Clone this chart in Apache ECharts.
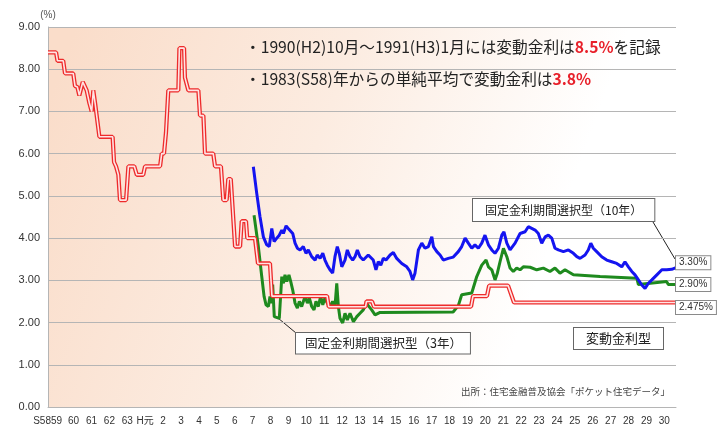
<!DOCTYPE html>
<html><head><meta charset="utf-8">
<script src="https://cdn.jsdelivr.net/npm/echarts@6/dist/echarts.min.js"></script>
<style>html,body{margin:0;padding:0;background:#fff}#c{width:726px;height:438px}</style>
</head><body><div id="c"></div>
<script>
// x tick labels, one per year from 1983 (S58) to 2018 (H30)
const xLabels = ['S58','59','60','61','62','63','H元','2','3','4','5','6','7','8','9','10','11','12','13','14','15','16','17','18','19','20','21','22','23','24','25','26','27','28','29','30'];
const firstYear = 1983;
const yTicks = [0,1,2,3,4,5,6,7,8,9];

// 変動金利型 [decimal year, %]
const floatRate = [
 [1983.57,8.4],[1984.02,8.4],[1984.10,8.2],[1984.42,8.2],[1984.52,7.9],[1984.98,7.9],[1985.08,7.6],[1985.21,7.58],
 [1985.32,7.38],[1985.38,7.38],[1985.51,7.7],[1985.58,7.7],[1985.73,7.5],[1985.88,7.2],[1986.01,7.0],[1986.10,7.5],
 [1986.20,7.2],[1986.28,7.2],[1986.44,6.4],[1987.18,6.4],[1987.26,5.8],[1987.37,5.7],[1987.50,5.5],[1987.59,4.9],
 [1987.93,4.9],[1988.06,5.7],[1988.39,5.7],[1988.53,5.5],[1988.89,5.5],[1988.99,5.7],[1989.83,5.7],[1989.92,6.0],
 [1990.05,6.0],[1990.16,6.5],[1990.29,7.5],[1990.85,7.5],[1990.91,8.5],[1991.17,8.5],[1991.22,7.8],[1991.31,7.8],
 [1991.41,7.5],[1991.97,7.5],[1992.06,6.9],[1992.25,6.9],[1992.34,6.0],[1992.80,6.0],[1992.90,5.7],[1993.23,5.7],
 [1993.36,4.9],[1993.55,4.9],[1993.64,5.4],[1993.78,5.4],[1993.87,4.8],[1994.02,3.8],[1994.30,3.8],[1994.39,4.4],
 [1994.63,4.4],[1994.70,4.0],[1995.13,4.0],[1995.30,3.4],[1995.97,3.4],[1996.08,2.625],[1999.16,2.625],[1999.25,2.375],
 [2001.31,2.375],[2001.36,2.5],[2001.67,2.5],[2001.78,2.375],[2007.20,2.375],[2007.31,2.625],[2008.09,2.625],[2008.21,2.875],
 [2009.27,2.875],[2009.60,2.475],[2018.65,2.475]
];

// 固定金利期間選択型（3年）
const fixed3 = [
 [1995.08,4.54],[1995.32,3.80],[1995.51,3.09],[1995.64,2.62],[1995.75,2.42],[1995.88,2.38],[1995.97,2.62],[1996.07,2.46],
 [1996.12,2.90],[1996.21,2.14],[1996.49,2.10],[1996.63,3.09],[1996.72,2.93],[1996.81,3.13],[1996.91,2.97],[1997.03,3.13],
 [1997.13,2.97],[1997.24,2.77],[1997.37,2.46],[1997.50,2.34],[1997.61,2.50],[1997.74,2.38],[1997.93,2.62],[1998.06,2.46],
 [1998.17,2.58],[1998.30,2.38],[1998.43,2.30],[1998.54,2.50],[1998.67,2.38],[1998.80,2.62],[1998.92,2.42],[1999.04,2.58],
 [1999.17,2.46],[1999.32,2.38],[1999.47,2.50],[1999.60,2.38],[1999.70,2.93],[1999.79,2.38],[1999.88,2.10],[2000.03,1.99],
 [2000.16,2.22],[2000.29,2.06],[2000.44,2.22],[2000.63,2.02],[2000.82,2.14],[2001.00,2.22],[2001.18,2.30],[2001.37,2.46],
 [2001.46,2.40],[2001.65,2.30],[2001.84,2.18],[2002.12,2.24],[2006.20,2.25],[2006.49,2.40],[2006.68,2.66],[2006.77,2.70],
 [2007.24,2.70],[2007.33,2.66],[2007.52,3.09],[2007.80,3.36],[2008.04,3.48],[2008.17,3.32],[2008.36,3.25],[2008.54,3.01],
 [2008.67,3.17],[2008.82,3.44],[2009.01,3.76],[2009.20,3.56],[2009.38,3.29],[2009.56,3.21],[2009.75,3.29],[2009.94,3.25],
 [2010.12,3.32],[2010.50,3.31],[2010.87,3.25],[2011.24,3.29],[2011.61,3.21],[2011.89,3.29],[2012.17,3.17],[2012.45,3.25],
 [2012.73,3.18],[2012.92,3.13],[2014.41,3.09],[2016.46,3.05],[2016.55,2.90],[2018.13,2.97],[2018.22,2.90],[2018.65,2.90]
];

// 固定金利期間選択型（10年）
const fixed10 = [
 [1995.04,5.69],[1995.23,5.06],[1995.41,4.51],[1995.60,4.03],[1995.79,3.84],[1995.93,3.80],[1996.07,4.23],[1996.20,3.92],
 [1996.35,4.00],[1996.49,4.07],[1996.63,4.19],[1996.72,4.11],[1996.87,4.29],[1996.99,4.23],[1997.09,4.27],[1997.24,4.11],
 [1997.37,3.88],[1997.50,3.76],[1997.65,3.72],[1997.83,3.80],[1997.98,3.64],[1998.11,3.72],[1998.30,3.56],[1998.49,3.48],
 [1998.61,3.60],[1998.77,3.52],[1998.92,3.64],[1999.04,3.48],[1999.17,3.36],[1999.32,3.25],[1999.47,3.17],[1999.60,3.56],
 [1999.73,3.80],[1999.84,3.64],[1999.98,3.32],[2000.16,3.48],[2000.29,3.72],[2000.44,3.56],[2000.59,3.48],[2000.72,3.56],
 [2000.85,3.72],[2001.00,3.56],[2001.18,3.48],[2001.46,3.60],[2001.74,3.48],[2001.89,3.25],[2002.02,3.44],[2002.16,3.36],
 [2002.30,3.52],[2002.45,3.48],[2002.68,3.60],[2002.86,3.66],[2003.05,3.52],[2003.33,3.40],[2003.61,3.32],[2003.79,3.21],
 [2003.94,3.01],[2004.07,3.17],[2004.26,3.72],[2004.45,3.88],[2004.63,3.76],[2004.82,3.80],[2005.01,4.03],[2005.10,3.80],
 [2005.29,3.68],[2005.47,3.60],[2005.65,3.48],[2005.93,3.52],[2006.21,3.55],[2006.49,3.68],[2006.68,3.80],[2006.87,4.00],
 [2007.05,3.88],[2007.24,3.76],[2007.42,3.84],[2007.61,3.76],[2007.80,3.88],[2007.98,4.07],[2008.17,3.84],[2008.36,3.72],
 [2008.54,3.64],[2008.73,3.76],[2008.92,4.07],[2009.04,4.15],[2009.20,3.88],[2009.38,3.72],[2009.66,3.88],[2009.94,4.11],
 [2010.22,4.15],[2010.40,4.27],[2010.59,4.23],[2010.78,4.19],[2010.96,4.11],[2011.15,3.88],[2011.34,4.03],[2011.52,4.07],
 [2011.71,4.00],[2011.89,3.76],[2012.08,3.72],[2012.36,3.68],[2012.64,3.72],[2012.92,3.64],[2013.11,3.56],[2013.29,3.52],
 [2013.57,3.60],[2013.75,3.72],[2013.89,3.88],[2014.03,3.76],[2014.22,3.68],[2014.50,3.56],[2014.78,3.48],[2015.06,3.44],
 [2015.34,3.40],[2015.62,3.32],[2015.80,3.44],[2015.99,3.32],[2016.18,3.21],[2016.36,3.13],[2016.55,3.01],[2016.74,2.89],
 [2016.92,2.81],[2017.11,2.93],[2017.30,3.01],[2017.58,3.13],[2017.86,3.25],[2018.13,3.25],[2018.41,3.26],[2018.65,3.30]
];

const JP = '"Noto Sans CJK JP", sans-serif';
const NUM = '"Liberation Sans", "Noto Sans CJK JP", sans-serif';

function pct(v) {
  const s3 = v.toFixed(3);
  return (s3.endsWith('0') ? v.toFixed(2) : s3) + '%';
}
function endLabel(offset) {
  return {
    show: true, formatter: p => pct(p.value[1]), distance: 0, offset: offset,
    backgroundColor: '#fff', borderColor: '#8a8a8a', borderWidth: 1, padding: [2, 3, 1, 3],
    fontSize: 10, fontFamily: NUM, color: '#333'
  };
}

const chart = echarts.init(document.getElementById('c'), null, {renderer: 'canvas'});
chart.setOption({
  animation: false,
  backgroundColor: '#fff',
  grid: {
    left: 48, right: 50, top: 27, bottom: 31, show: true, borderWidth: 0,
    backgroundColor: new echarts.graphic.LinearGradient(0, 0.2, 1, 0.8, [
      {offset: 0, color: '#FADDCA'}, {offset: 0.4, color: '#FCECE1'}, {offset: 0.78, color: '#FFFFFF'}, {offset: 1, color: '#FFFFFF'}
    ])
  },
  xAxis: {
    type: 'value', min: 1983.57, max: 2018.65,
    axisLine: {show: true, lineStyle: {color: '#B5B5B5'}},
    axisTick: {show: false},
    splitLine: {show: false},
    axisLabel: {
      customValues: xLabels.map((_, i) => firstYear + i).slice(1),
      margin: 9, fontSize: 10, fontFamily: NUM, color: '#333',
      formatter: v => {
        const i = Math.round(v) - firstYear;
        if (i === 1) return '{s|' + xLabels[0] + xLabels[1] + '}';
        return xLabels[i];
      },
      rich: {s: {width: 45, align: 'left', fontSize: 10, fontFamily: NUM, color: '#333'}}
    }
  },
  yAxis: {
    type: 'value', min: yTicks[0], max: yTicks[yTicks.length - 1], interval: 1,
    name: '(%)', nameLocation: 'end', nameGap: 7,
    nameTextStyle: {fontSize: 10, color: '#555', fontFamily: NUM},
    axisLine: {show: true, lineStyle: {color: '#B5B5B5'}},
    axisTick: {show: false},
    splitLine: {lineStyle: {color: '#B5B5B5'}},
    axisLabel: {formatter: v => v.toFixed(2), fontSize: 11, fontFamily: NUM, color: '#333', margin: 8}
  },
  series: [
    {name: '固定金利期間選択型（3年）', type: 'line', data: fixed3, showSymbol: false,
     lineStyle: {color: '#1E8A1E', width: 3}, endLabel: endLabel([0, 0])},
    {name: '変動金利型', type: 'line', data: floatRate, showSymbol: false,
     lineStyle: {color: '#EE2B2B', width: 4.2}},
    {name: '変動金利型 inner', type: 'line', data: floatRate, showSymbol: false,
     lineStyle: {color: '#FFE4E4', width: 1.6}, endLabel: endLabel([0, 5])},
    {name: '固定金利期間選択型（10年）', type: 'line', data: fixed10, showSymbol: false,
     lineStyle: {color: '#1414F0', width: 3}, endLabel: endLabel([0, -5])}
  ],
  graphic: [
    {type: 'text', left: 245, top: 39, style: {
      text: '・1990(H2)10月～1991(H3)1月には変動金利は{r|8.5%}を記録',
      font: '15.7px ' + JP, fill: '#222',
      rich: {r: {fill: '#E8202A', fontWeight: 'bold', fontSize: 15.7, fontFamily: JP}}}},
    {type: 'text', left: 245, top: 71, style: {
      text: '・1983(S58)年からの単純平均で変動金利は{r|3.8%}',
      font: '15.7px ' + JP, fill: '#222',
      rich: {r: {fill: '#E8202A', fontWeight: 'bold', fontSize: 15.7, fontFamily: JP}}}},
    {type: 'line', shape: {x1: 653, y1: 222, x2: 675, y2: 259}, style: {stroke: '#222', lineWidth: 1}},
    {type: 'line', shape: {x1: 278, y1: 318, x2: 296, y2: 333}, style: {stroke: '#222', lineWidth: 1}},
    {type: 'text', left: 472, top: 198, style: {
      text: '固定金利期間選択型（10年）', font: '12px ' + JP, fill: '#222',
      backgroundColor: '#fff', borderColor: '#666', borderWidth: 1, padding: [5, 12, 5, 12]}},
    {type: 'text', left: 295, top: 332, style: {
      text: '固定金利期間選択型（3年）', font: '12.5px ' + JP, fill: '#222',
      backgroundColor: '#fff', borderColor: '#666', borderWidth: 1, padding: [4, 8, 4, 9]}},
    {type: 'text', left: 573, top: 327, style: {
      text: '変動金利型', font: '13px ' + JP, fill: '#222',
      backgroundColor: '#fff', borderColor: '#666', borderWidth: 1, padding: [4, 12, 4, 12]}},
    {type: 'text', right: 56, top: 387, style: {
      text: '出所：住宅金融普及協会「ポケット住宅データ」', font: '9.5px ' + JP, fill: '#444'}}
  ]
});
</script></body></html>
